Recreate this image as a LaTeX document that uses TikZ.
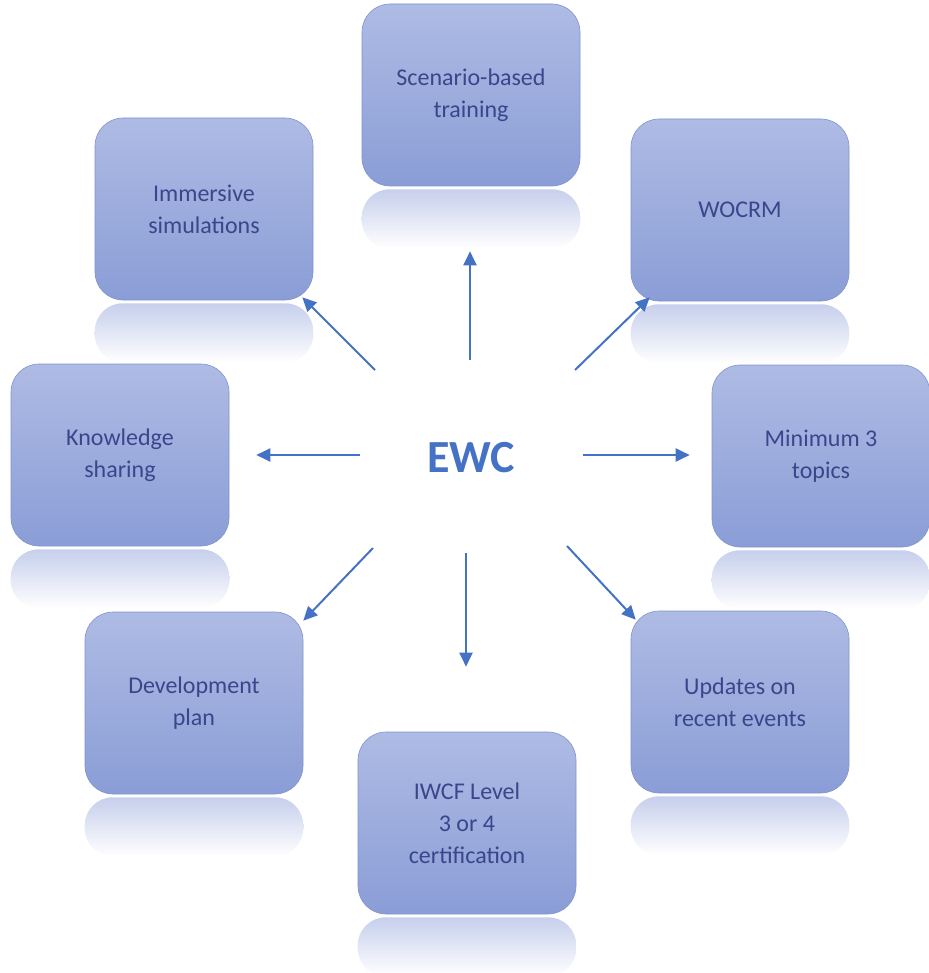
\documentclass[tikz,border=0pt]{standalone}
\usepackage{fontspec}
\setmainfont{Carlito}
\usetikzlibrary{arrows.meta, positioning, calc}

\definecolor{boxtop}{RGB}{174,187,228}
\definecolor{boxbot}{RGB}{138,157,214}
\definecolor{boxline}{RGB}{128,147,206}
\definecolor{boxtext}{RGB}{58,70,140}
\definecolor{ewcblue}{RGB}{68,114,196}
\definecolor{refl}{RGB}{198,207,236}

\begin{document}
\begin{tikzpicture}[
    x=1pt, y=-1pt,
    topic/.style={rectangle, rounded corners=28pt, minimum width=218pt, minimum height=182pt, top color=boxtop, bottom color=boxbot, draw=boxline, line width=0.6pt, text=boxtext, align=center, font=\fontsize{24}{32}\selectfont},
    mirror/.style={top color=refl, bottom color=white, rounded corners=28pt},
    hub/.style={text=ewcblue, font=\fontsize{46}{50}\selectfont\bfseries},
    link/.style={draw=ewcblue, line width=2pt, -{Triangle[length=14pt, width=13pt]}}
]
\useasboundingbox (0,0) rectangle (928,973);

% topics round the hub
\node[topic] (scen)  at (471,95)  {Scenario-based\\training};
\node[topic] (imm)   at (204,209) {Immersive\\simulations};
\node[topic] (wocrm) at (740,210) {WOCRM};
\node[topic] (know)  at (120,455) {Knowledge\\sharing};
\node[topic] (mint)  at (821,456) {Minimum 3\\topics};
\node[topic] (dev)   at (194,703) {Development\\plan};
\node[topic] (upd)   at (740,702) {Updates on\\recent events};
\node[topic] (iwcf)  at (467,823) {IWCF Level\\3 or 4\\certification};

% reflections
\foreach \b in {scen, imm, wocrm, know, mint, dev, upd, iwcf}
    \shade[mirror] ($(\b.south west)+(0,3)$) rectangle ($(\b.south east)+(0,62)$);

\node[hub] (ewc) at (471,458) {EWC};

% arrows
\draw[link] ($(ewc)+(-1,-98)$)  -- ($(scen.south)+(-1,65)$);
\draw[link] ($(ewc)+(104,-88)$) -- ($(wocrm.south west)+(19,-4)$);
\draw[link] ($(ewc)+(112,-3)$)  -- ($(mint.west)+(-22,-1)$);
\draw[link] ($(ewc)+(96,88)$)   -- ($(upd.north west)+(5,9)$);
\draw[link] ($(ewc)+(-5,95)$)   -- ($(iwcf.north)+(-1,-65)$);
\draw[link] ($(ewc)+(-98,90)$)  -- ($(dev.north east)+(0,9)$);
\draw[link] ($(ewc)+(-111,-3)$) -- ($(know.east)+(27,0)$);
\draw[link] ($(ewc)+(-96,-88)$) -- ($(imm.south east)+(-11,-3)$);

\end{tikzpicture}
\end{document}
